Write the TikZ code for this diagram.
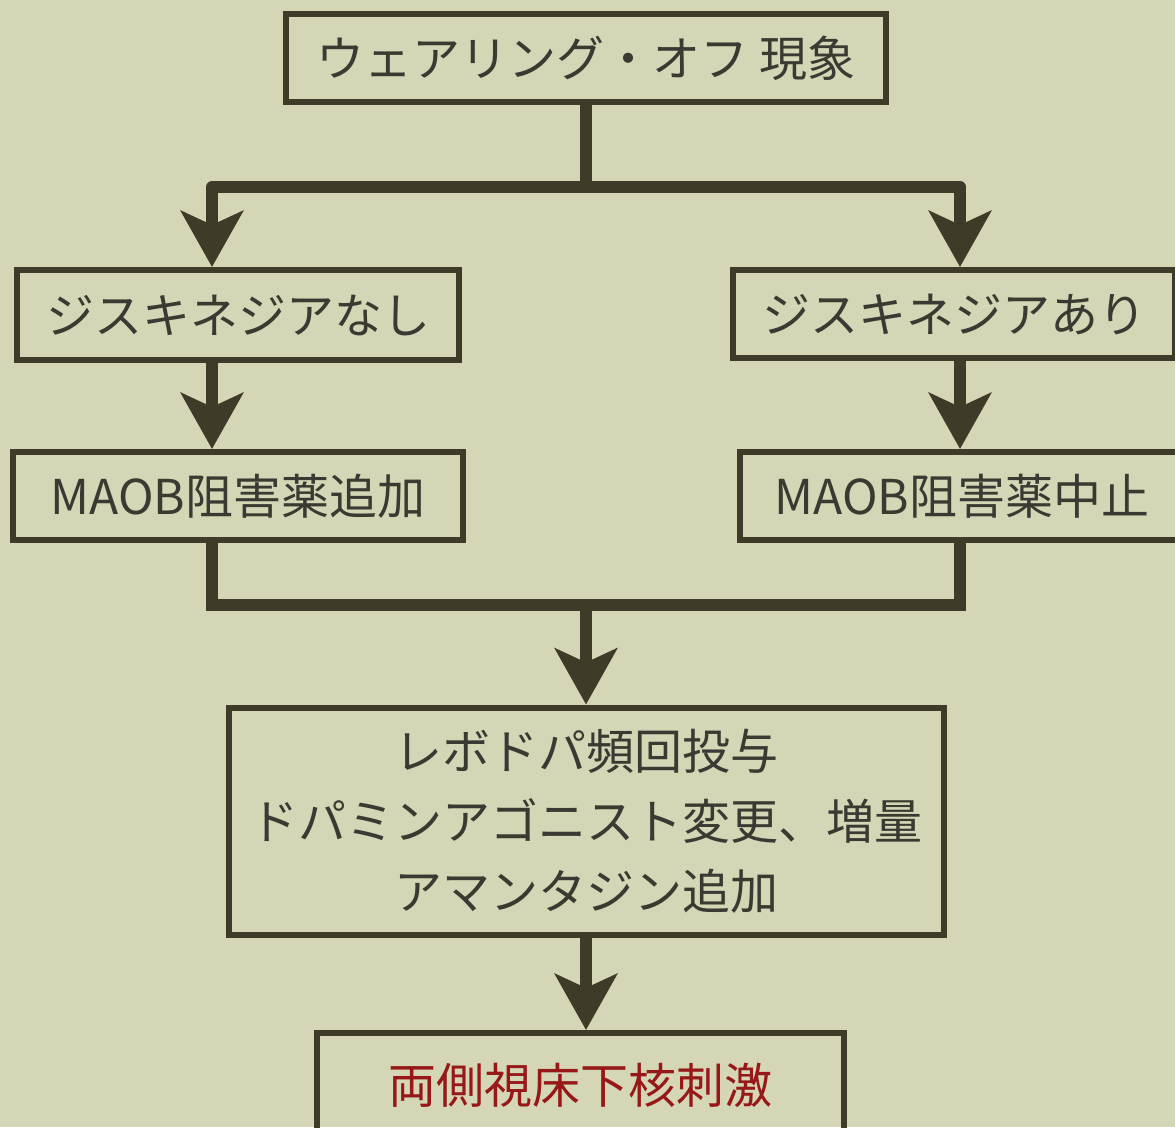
\documentclass[tikz,border=0pt]{standalone}
\usepackage{fontspec}
\setmainfont{Noto Sans CJK JP}
\usetikzlibrary{arrows.meta}
\definecolor{paper}{RGB}{213,214,181}
\definecolor{ink}{RGB}{62,60,40}
\definecolor{txt}{RGB}{58,58,50}
\definecolor{redtxt}{RGB}{150,24,24}

\begin{document}
\begin{tikzpicture}[x=1pt,y=-1pt,
    box/.style={draw=ink,line width=6pt,text=txt,inner sep=0pt,
      font=\fontsize{48}{70}\selectfont,align=center},
    link/.style={draw=ink,line width=12pt},
    flow/.style={link,-{Stealth[length=56pt,width=62pt,inset=14pt]}}]
    \useasboundingbox[fill=paper] (0,0) rectangle (1175,1127);

    % Boxes
    \node[box,minimum width=600pt,minimum height=88pt] (top) at (586,58) {ウェアリング・オフ 現象};
    \node[box,minimum width=442pt,minimum height=90pt] (dl) at (238,315) {ジスキネジアなし};
    \node[box,minimum width=442pt,minimum height=88pt] (dr) at (954,314) {ジスキネジアあり};
    \node[box,minimum width=450pt,minimum height=88pt] (ml) at (238,496) {MAOB阻害薬追加};
    \node[box,minimum width=444pt,minimum height=88pt] (mr) at (962,496) {MAOB阻害薬中止};
    \node[box,minimum width=715pt,minimum height=227pt] (mid) at (586,821) {レボドパ頻回投与\\ドパミンアゴニスト変更、増量\\アマンタジン追加};
    \node[box,minimum width=527pt,minimum height=120pt,text=redtxt] (bot) at (580,1093) {\raisebox{20pt}{両側視床下核刺激}};

    % Split
    \coordinate (tm) at (586,187);
    \coordinate (tl) at (212,187);
    \coordinate (tr) at (960,187);
    \draw[link] (top.south) -- (tm);
    \draw[link,line cap=round] (tl) -- (tr);
    \draw[flow] (tl) -- (tl |- dl.north);
    \draw[flow] (tr) -- (tr |- dr.north);

    % Branches
    \draw[flow] (tl |- dl.south) -- (tl |- ml.north);
    \draw[flow] (tr |- dr.south) -- (tr |- mr.north);

    % Merge
    \coordinate (bl) at (212,605);
    \coordinate (br) at (960,605);
    \coordinate (bm) at (586,605);
    \draw[link] (bl |- ml.south) -- (bl) -- (br) -- (br |- mr.south);
    \draw[flow] (bm) -- (mid.north);
    \draw[flow] (mid.south) -- (mid.south |- bot.north);
\end{tikzpicture}
\end{document}
